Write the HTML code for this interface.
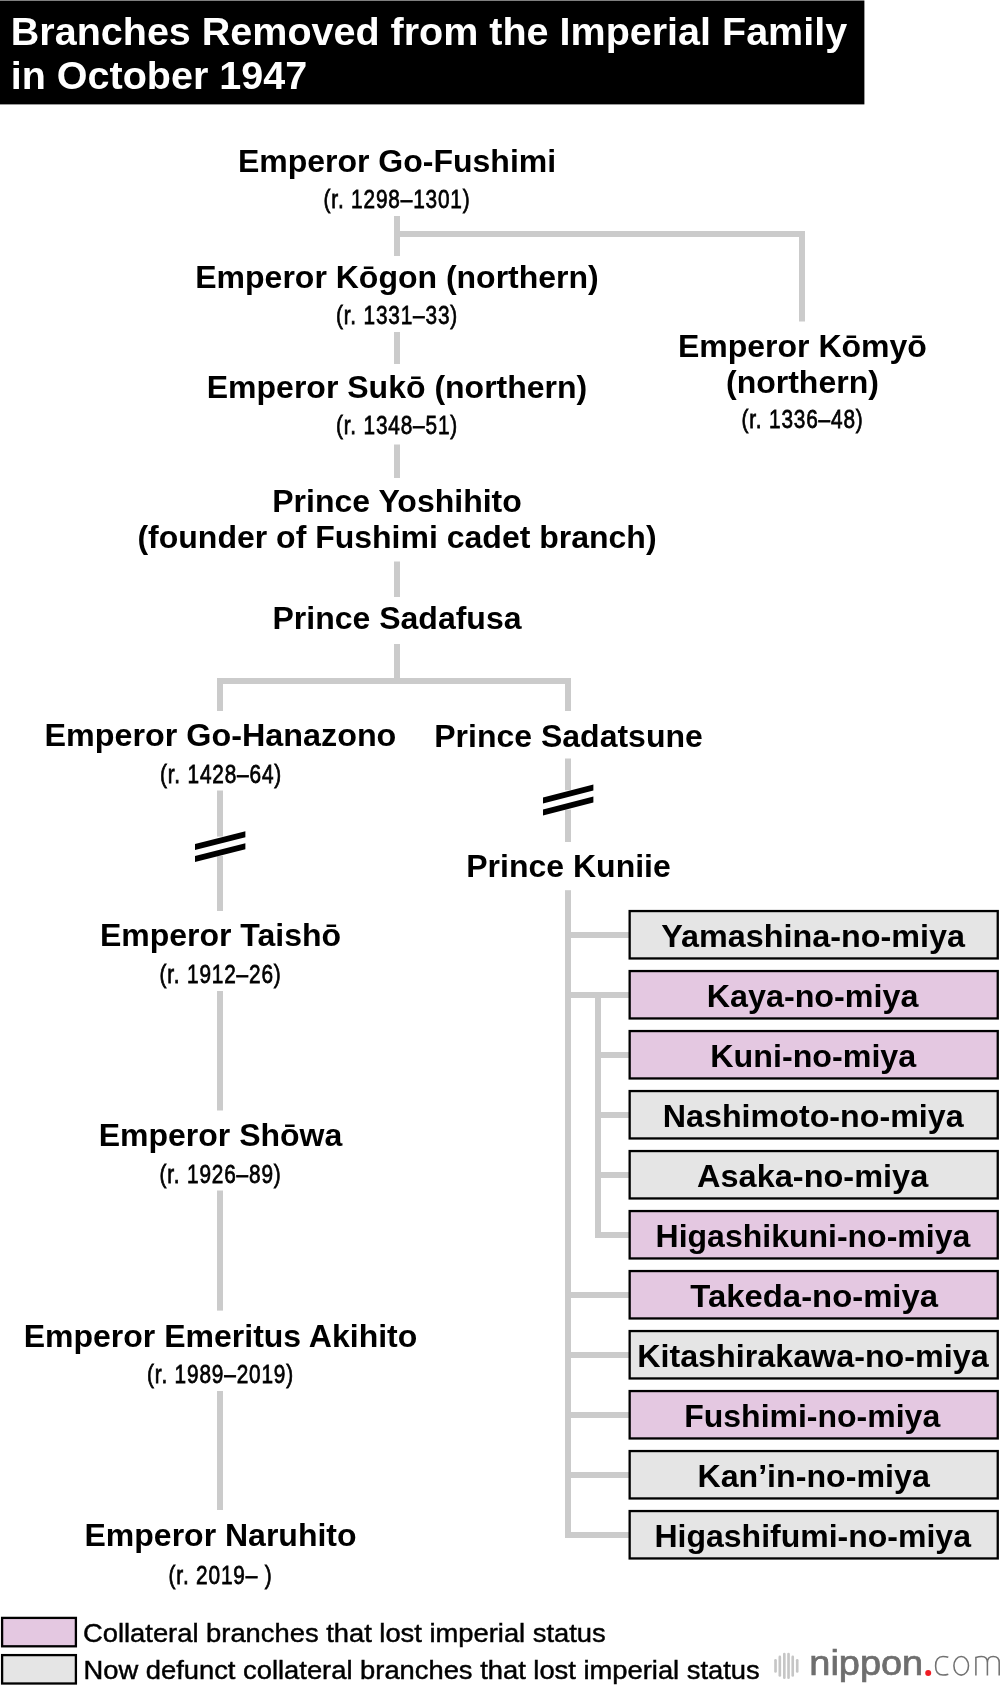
<!DOCTYPE html>
<html><head><meta charset="utf-8"><title>Branches Removed from the Imperial Family in October 1947</title>
<style>html,body{margin:0;padding:0;background:#fff;} body{width:1000px;height:1686px;overflow:hidden;font-family:"Liberation Sans", sans-serif;} svg{display:block;will-change:transform;}</style>
</head><body>
<svg width="1000" height="1686" viewBox="0 0 1000 1686" font-family="Liberation Sans, sans-serif"><rect x="0" y="0.5" width="864.4" height="103.9" fill="#000"/>
<text x="10.8" y="45" font-size="39.5" font-weight="bold" text-anchor="start" fill="#fff" >Branches Removed from the Imperial Family</text>
<text x="10.8" y="88.6" font-size="39.5" font-weight="bold" text-anchor="start" fill="#fff" >in October 1947</text>
<rect x="394" y="216" width="6" height="40" fill="#cbcbcb"/>
<rect x="394" y="231" width="411" height="6" fill="#cbcbcb"/>
<rect x="799" y="231" width="6" height="90.5" fill="#cbcbcb"/>
<rect x="394" y="332" width="6" height="32" fill="#cbcbcb"/>
<rect x="394" y="444.5" width="6" height="33.5" fill="#cbcbcb"/>
<rect x="394" y="561.5" width="6" height="35.5" fill="#cbcbcb"/>
<rect x="394" y="644" width="6" height="40" fill="#cbcbcb"/>
<rect x="217" y="678" width="354" height="6" fill="#cbcbcb"/>
<rect x="217" y="678" width="6" height="33" fill="#cbcbcb"/>
<rect x="565" y="678" width="6" height="33" fill="#cbcbcb"/>
<rect x="217" y="790.5" width="6" height="46.10000000000002" fill="#cbcbcb"/>
<rect x="217" y="855.8" width="6" height="55.200000000000045" fill="#cbcbcb"/>
<rect x="217" y="991" width="6" height="119.5" fill="#cbcbcb"/>
<rect x="217" y="1190.5" width="6" height="120.09999999999991" fill="#cbcbcb"/>
<rect x="217" y="1391" width="6" height="119" fill="#cbcbcb"/>
<rect x="565" y="758.5" width="6" height="31.700000000000045" fill="#cbcbcb"/>
<rect x="565" y="809.6" width="6" height="32.39999999999998" fill="#cbcbcb"/>
<rect x="565" y="890.2" width="6" height="647.8" fill="#cbcbcb"/>
<rect x="595" y="992" width="6" height="246" fill="#cbcbcb"/>
<text x="397" y="172" font-size="32" font-weight="bold" text-anchor="middle" fill="#000" >Emperor Go-Fushimi</text>
<text transform="translate(397.0 208) scale(0.8 1)" x="0" y="0" font-size="26" letter-spacing="1.05" text-anchor="middle" fill="#000" stroke="#000" stroke-width="0.75">(r. 1298–1301)</text>
<text x="397" y="288.1" font-size="32" font-weight="bold" text-anchor="middle" fill="#000" >Emperor Kōgon (northern)</text>
<text transform="translate(397.0 323.7) scale(0.8 1)" x="0" y="0" font-size="26" letter-spacing="1.05" text-anchor="middle" fill="#000" stroke="#000" stroke-width="0.75">(r. 1331–33)</text>
<text x="397" y="397.8" font-size="32" font-weight="bold" text-anchor="middle" fill="#000" >Emperor Sukō (northern)</text>
<text transform="translate(397.0 434.2) scale(0.8 1)" x="0" y="0" font-size="26" letter-spacing="1.05" text-anchor="middle" fill="#000" stroke="#000" stroke-width="0.75">(r. 1348–51)</text>
<text x="802.4" y="356.5" font-size="32" font-weight="bold" text-anchor="middle" fill="#000" >Emperor Kōmyō</text>
<text x="802.4" y="393" font-size="32" font-weight="bold" text-anchor="middle" fill="#000" >(northern)</text>
<text transform="translate(802.5 427.6) scale(0.8 1)" x="0" y="0" font-size="26" letter-spacing="1.05" text-anchor="middle" fill="#000" stroke="#000" stroke-width="0.75">(r. 1336–48)</text>
<text x="397" y="511.6" font-size="32" font-weight="bold" text-anchor="middle" fill="#000" >Prince Yoshihito</text>
<text x="397" y="547.6" font-size="32" font-weight="bold" text-anchor="middle" fill="#000" >(founder of Fushimi cadet branch)</text>
<text x="397" y="629.2" font-size="32" font-weight="bold" text-anchor="middle" fill="#000" >Prince Sadafusa</text>
<text transform="translate(220.4 746.2) scale(1.01 1)" font-size="32" font-weight="bold" text-anchor="middle" fill="#000">Emperor Go-Hanazono</text>
<text transform="translate(221.0 783.2) scale(0.8 1)" x="0" y="0" font-size="26" letter-spacing="1.05" text-anchor="middle" fill="#000" stroke="#000" stroke-width="0.75">(r. 1428–64)</text>
<text x="568.5" y="746.5" font-size="32" font-weight="bold" text-anchor="middle" fill="#000" >Prince Sadatsune</text>
<text x="568.5" y="877" font-size="32" font-weight="bold" text-anchor="middle" fill="#000" >Prince Kuniie</text>
<text x="220.5" y="945.7" font-size="32" font-weight="bold" text-anchor="middle" fill="#000" >Emperor Taishō</text>
<text transform="translate(220.5 983) scale(0.8 1)" x="0" y="0" font-size="26" letter-spacing="1.05" text-anchor="middle" fill="#000" stroke="#000" stroke-width="0.75">(r. 1912–26)</text>
<text x="220.5" y="1146.2" font-size="32" font-weight="bold" text-anchor="middle" fill="#000" >Emperor Shōwa</text>
<text transform="translate(220.5 1183.2) scale(0.8 1)" x="0" y="0" font-size="26" letter-spacing="1.05" text-anchor="middle" fill="#000" stroke="#000" stroke-width="0.75">(r. 1926–89)</text>
<text x="220.5" y="1346.7" font-size="32" font-weight="bold" text-anchor="middle" fill="#000" >Emperor Emeritus Akihito</text>
<text transform="translate(220.5 1383.2) scale(0.8 1)" x="0" y="0" font-size="26" letter-spacing="1.05" text-anchor="middle" fill="#000" stroke="#000" stroke-width="0.75">(r. 1989–2019)</text>
<text x="220.5" y="1546.2" font-size="32" font-weight="bold" text-anchor="middle" fill="#000" >Emperor Naruhito</text>
<text transform="translate(220.5 1583.8) scale(0.8 1)" x="0" y="0" font-size="26" letter-spacing="1.05" text-anchor="middle" fill="#000" stroke="#000" stroke-width="0.75">(r. 2019– )</text>
<polygon points="195,844 245.4,831.2 245.4,837.2 195,850" fill="#000"/>
<polygon points="195,856 245.4,843.2 245.4,849.2 195,862" fill="#000"/>
<polygon points="543,797.4 593.4,784.6 593.4,790.6 543,803.4" fill="#000"/>
<polygon points="543,809.4 593.4,796.6 593.4,802.6 543,815.4" fill="#000"/>
<rect x="570" y="932" width="59" height="6" fill="#cbcbcb"/>
<rect x="629.65" y="911.05" width="368.1" height="47.4" fill="#e5e5e5" stroke="#000" stroke-width="2.3"/>
<text transform="translate(813.04 946.5) scale(1.011 1)" font-size="32" font-weight="bold" text-anchor="middle" fill="#000">Yamashina-no-miya</text>
<rect x="570" y="992" width="59" height="6" fill="#cbcbcb"/>
<rect x="629.65" y="971.05" width="368.1" height="47.4" fill="#e4c8e1" stroke="#000" stroke-width="2.3"/>
<text transform="translate(812.54 1006.5) scale(1.009 1)" font-size="32" font-weight="bold" text-anchor="middle" fill="#000">Kaya-no-miya</text>
<rect x="600" y="1052" width="29" height="6" fill="#cbcbcb"/>
<rect x="629.65" y="1031.05" width="368.1" height="47.4" fill="#e4c8e1" stroke="#000" stroke-width="2.3"/>
<text transform="translate(813.24 1066.5) scale(1.007 1)" font-size="32" font-weight="bold" text-anchor="middle" fill="#000">Kuni-no-miya</text>
<rect x="600" y="1112" width="29" height="6" fill="#cbcbcb"/>
<rect x="629.65" y="1091.05" width="368.1" height="47.4" fill="#e5e5e5" stroke="#000" stroke-width="2.3"/>
<text transform="translate(813.24 1126.5) scale(1.008 1)" font-size="32" font-weight="bold" text-anchor="middle" fill="#000">Nashimoto-no-miya</text>
<rect x="600" y="1172" width="29" height="6" fill="#cbcbcb"/>
<rect x="629.65" y="1151.05" width="368.1" height="47.4" fill="#e5e5e5" stroke="#000" stroke-width="2.3"/>
<text transform="translate(812.64 1186.5) scale(1.016 1)" font-size="32" font-weight="bold" text-anchor="middle" fill="#000">Asaka-no-miya</text>
<rect x="600" y="1232" width="29" height="6" fill="#cbcbcb"/>
<rect x="629.65" y="1211.05" width="368.1" height="47.4" fill="#e4c8e1" stroke="#000" stroke-width="2.3"/>
<text transform="translate(812.9 1246.5) scale(1.0 1)" font-size="32" font-weight="bold" text-anchor="middle" fill="#000">Higashikuni-no-miya</text>
<rect x="570" y="1292" width="59" height="6" fill="#cbcbcb"/>
<rect x="629.65" y="1271.05" width="368.1" height="47.4" fill="#e4c8e1" stroke="#000" stroke-width="2.3"/>
<text transform="translate(814.2 1306.5) scale(1.027 1)" font-size="32" font-weight="bold" text-anchor="middle" fill="#000">Takeda-no-miya</text>
<rect x="570" y="1352" width="59" height="6" fill="#cbcbcb"/>
<rect x="629.65" y="1331.05" width="368.1" height="47.4" fill="#e5e5e5" stroke="#000" stroke-width="2.3"/>
<text transform="translate(812.89 1366.5) scale(1.009 1)" font-size="32" font-weight="bold" text-anchor="middle" fill="#000">Kitashirakawa-no-miya</text>
<rect x="570" y="1412" width="59" height="6" fill="#cbcbcb"/>
<rect x="629.65" y="1391.05" width="368.1" height="47.4" fill="#e4c8e1" stroke="#000" stroke-width="2.3"/>
<text transform="translate(812.2 1426.5) scale(1.0 1)" font-size="32" font-weight="bold" text-anchor="middle" fill="#000">Fushimi-no-miya</text>
<rect x="570" y="1472" width="59" height="6" fill="#cbcbcb"/>
<rect x="629.65" y="1451.05" width="368.1" height="47.4" fill="#e5e5e5" stroke="#000" stroke-width="2.3"/>
<text transform="translate(813.59 1486.5) scale(1.006 1)" font-size="32" font-weight="bold" text-anchor="middle" fill="#000">Kan’in-no-miya</text>
<rect x="570" y="1532" width="59" height="6" fill="#cbcbcb"/>
<rect x="629.65" y="1511.05" width="368.1" height="47.4" fill="#e5e5e5" stroke="#000" stroke-width="2.3"/>
<text transform="translate(812.7 1546.5) scale(1.0 1)" font-size="32" font-weight="bold" text-anchor="middle" fill="#000">Higashifumi-no-miya</text>
<rect x="2.1" y="1617.9" width="73.8" height="28.4" fill="#e4c8e1" stroke="#000" stroke-width="2.3"/>
<rect x="2.1" y="1655.1" width="73.8" height="28.4" fill="#e5e5e5" stroke="#000" stroke-width="2.3"/>
<text transform="translate(83 1642.3) scale(1.052 1)" font-size="26" fill="#000" stroke="#000" stroke-width="0.45">Collateral branches that lost imperial status</text>
<text transform="translate(83.5 1678.7) scale(1.052 1)" font-size="26" fill="#000" stroke="#000" stroke-width="0.45">Now defunct collateral branches that lost imperial status</text>
<rect x="774.2" y="1659" width="2.65" height="13.799999999999955" rx="1.3" fill="#c6c6c6"/>
<rect x="778.5" y="1655.6" width="2.65" height="21.200000000000045" rx="1.3" fill="#c6c6c6"/>
<rect x="783" y="1652.8" width="2.65" height="26.200000000000045" rx="1.3" fill="#c6c6c6"/>
<rect x="787.2" y="1652.8" width="2.65" height="26.200000000000045" rx="1.3" fill="#c6c6c6"/>
<rect x="791.4" y="1655.6" width="2.65" height="21.200000000000045" rx="1.3" fill="#c6c6c6"/>
<rect x="795.9" y="1659" width="2.65" height="13.799999999999955" rx="1.3" fill="#c6c6c6"/>
<text transform="translate(809.3 1675.3) scale(1.1 1)" font-size="34.5" fill="#6e6e6e" stroke="#6e6e6e" stroke-width="0.7">nippon</text>
<circle cx="928.2" cy="1673" r="3" fill="#f01c24"/>
<g fill="none" stroke="#727272" stroke-width="1.55"><path d="M948.3,1657.3 C946.6,1656.7 944.8,1656.5 943,1656.5 C938.2,1656.6 935.6,1660.2 935.6,1665.9 C935.6,1671.6 938.3,1675 943,1675.1 C945,1675.1 946.8,1674.8 948.3,1674.3"/><ellipse cx="961.2" cy="1665.8" rx="7.3" ry="9.3"/><path d="M975.9,1675.6 V1657.4 C977.8,1656.8 979.8,1656.5 981.6,1656.5 C985.6,1656.5 987.4,1658.6 987.4,1662.5 V1675.6 M987.4,1662.5 C987.4,1658.4 989.6,1656.5 993.2,1656.5 C997.2,1656.5 999.2,1658.6 999.2,1662.5 V1675.6"/></g></svg>
</body></html>
